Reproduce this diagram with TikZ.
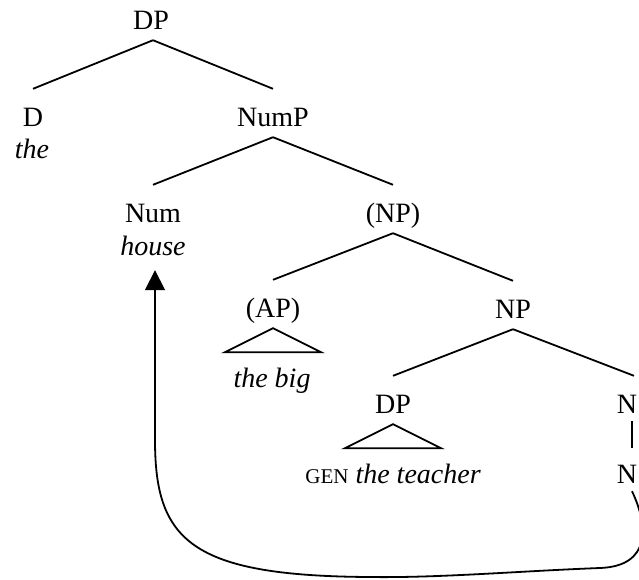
\documentclass[tikz,border=0pt]{standalone}
\usepackage{fontspec}
\setmainfont{Liberation Serif}
\usetikzlibrary{arrows.meta,calc}
\begin{document}
\begin{tikzpicture}[x=1pt,y=-1pt,
  cat/.style={anchor=base,inner sep=0pt,text height=37pt,text depth=11pt,font=\fontsize{28}{32}\selectfont},
  word/.style={anchor=base,inner sep=0pt,text height=19pt,text depth=15pt,font=\fontsize{28}{32}\selectfont\itshape},
  edge/.style={line width=1.8pt},
  move/.style={line width=1.8pt,-{Triangle[length=20pt,width=20pt]}}]
\useasboundingbox (0,0) rectangle (639,579);
% categories
\node[cat] (dp) at (151,29) {DP};
\node[cat] (d) at (33,126) {D};
\node[word] (the) at (32,158) {the};
\node[cat] (nump) at (273,126) {NumP};
\node[cat] (num) at (153,222) {Num};
\node[word] (house) at (153,255) {house};
\node[cat] (np1) at (393,222) {(NP)};
\node[cat] (ap) at (273,317) {(AP)};
\node[word] (thebig) at (272,387) {the big};
\node[cat] (np2) at (513,318) {NP};
\node[cat] (dp2) at (393,413) {DP};
\node[word] (gen) at (393,483) {{\upshape\fontsize{21}{24}\selectfont GEN} the teacher};
\node[cat] (nbar) at (627,413) {N};
\node[cat] (n) at (627,483) {N};
% branches
\draw[edge] ([xshift=2pt]dp.south) -- (d.north);
\draw[edge] ([xshift=2pt]dp.south) -- (nump.north);
\draw[edge] (nump.south) -- (num.north);
\draw[edge] (nump.south) -- (np1.north);
\draw[edge] (np1.south) -- (ap.north);
\draw[edge] (np1.south) -- (np2.north);
\draw[edge] (np2.south) -- (dp2.north);
\draw[edge] (np2.south) -- ([xshift=7pt]nbar.north);
\draw[edge] ([xshift=5pt,yshift=3pt]nbar.south) -- ([xshift=5pt,yshift=-2pt]n.north);
% triangles
\draw[edge,line join=miter] (ap.south) -- ++(-48,24) -- ++(96,0) -- cycle;
\draw[edge,line join=miter] (dp2.south) -- ++(-48,24) -- ++(96,0) -- cycle;
% movement
\draw[move] ([xshift=5pt,yshift=3pt]n.south) .. controls (648,525) and (652,566) .. (600,568)
  .. controls (520,571) and (440,578) .. (370,577)
  .. controls (190,576) and (155,540) .. (155,440) -- ([xshift=2pt]house.south);
\end{tikzpicture}
\end{document}
